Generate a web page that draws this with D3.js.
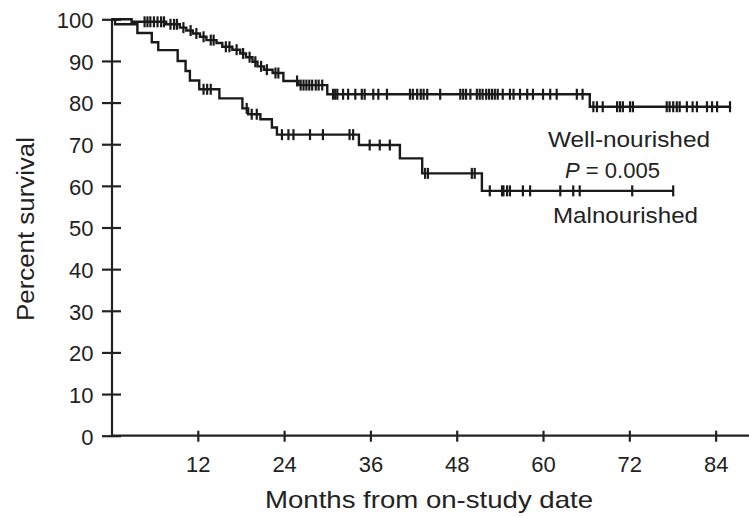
<!DOCTYPE html>
<html>
<head>
<meta charset="utf-8">
<script src="https://cdn.jsdelivr.net/npm/d3@7"></script>
<style>
  body { margin: 0; background: #fff; }
  svg { display: block; font-family: "Liberation Sans", Arial, sans-serif; }
  .axis path, .axis line { stroke: #222; stroke-width: 2.2; }
  .axis text { fill: #222; font-size: 22px; }
  .curve { fill: none; stroke: #1a1a1a; stroke-width: 2.4; }
  .censor { stroke: #1a1a1a; stroke-width: 2.2; }
  .lbl { fill: #222; }
</style>
</head>
<body>
<div id="chart"></div>
<script>
// Kaplan-Meier steps: [month, percent surviving]
var wellSteps = [[0, 100], [2.8, 99.4], [7.6, 98.8], [9.5, 98.0], [10.4, 97.3], [11.3, 96.6],
  [12.3, 95.8], [13.2, 95.0], [14.6, 94.3], [15.4, 93.4], [16.8, 92.7], [17.9, 91.8],
  [18.7, 90.9], [19.6, 89.8], [20.3, 88.7], [21.2, 87.9], [22.4, 87.1], [23.9, 85.2],
  [26.0, 84.2], [30.0, 82.0], [66.5, 79.0]];
var wellEnd = 86;
var wellCensor = [4.6, 5.0, 5.4, 5.9, 6.4, 6.9, 7.3, 8.2, 8.7, 9.1, 10.0, 11.0, 11.8, 12.8,
  13.8, 14.2, 15.9, 16.4, 17.4, 18.3, 19.2, 20.0, 20.8, 21.6, 22.8, 23.2, 25.8, 26.3,
  26.7, 27.1, 27.5, 27.9, 28.4, 28.8, 29.3,
  30.8, 31.1, 31.4, 32.2, 32.9, 33.9, 34.8, 35.2, 36.4, 37.1, 38.3, 41.5, 41.9, 42.5,
  43.0, 43.4, 43.9, 45.7, 48.5, 48.9, 49.3, 49.9, 50.8, 51.2, 51.6, 52.1, 52.5, 52.9,
  53.3, 53.7, 54.4, 55.4, 55.9, 56.8, 57.8, 58.6, 60.0, 61.0, 61.9, 64.7, 65.5,
  67.0, 67.5, 68.3, 70.3, 70.7, 71.1, 72.1, 72.5, 77.2, 77.6, 78.1, 78.6, 79.0, 80.0,
  80.8, 81.4, 82.8, 83.5, 84.2, 86.0];

var malSteps = [[0, 100], [0.5, 98.8], [3.6, 96.7], [5.6, 94.5], [6.5, 92.6], [9.2, 90.0],
  [10.3, 87.6], [10.9, 85.3], [12.2, 83.2], [15.0, 81.0], [18.2, 78.6], [19.0, 77.2],
  [20.7, 76.0], [22.3, 74.0], [23.0, 72.3], [34.4, 69.8], [40.1, 66.6], [43.2, 63.0],
  [51.5, 58.8]];
var malEnd = 78.1;
var malCensor = [12.8, 13.3, 13.8, 18.8, 19.5, 20.2, 23.7, 24.6, 25.3, 27.6, 29.4, 33.1,
  33.6, 35.9, 37.3, 38.7, 43.6, 44.0, 50.1, 50.5, 52.6, 54.3, 54.5, 55.0, 55.4, 57.2,
  58.2, 62.4, 64.2, 65.1, 72.4, 78.1];

var xTicks = [12, 24, 36, 48, 60, 72, 84];
var yTicks = [0, 10, 20, 30, 40, 50, 60, 70, 80, 90, 100];

var W = 749, H = 518;

var svg = d3.select("#chart").append("svg")
  .attr("width", W)
  .attr("height", H);

var x = d3.scaleLinear().domain([0, 88.5]).range([111.5, 748]);
var y = d3.scaleLinear().domain([0, 100]).range([435.7, 19.3]);

// axes, ticks cross the axis line
var gx = svg.append("g")
  .attr("class", "axis")
  .attr("transform", "translate(0," + y(0) + ")")
  .call(d3.axisBottom(x).tickValues(xTicks).tickSizeOuter(0).tickFormat(d3.format("d")));
gx.selectAll(".tick line").attr("y1", -5).attr("y2", 6);
gx.selectAll(".tick text").attr("y", 36).attr("dy", 0);
gx.select(".domain").attr("d", "M" + x(0) + ",0H" + W);

var gy = svg.append("g")
  .attr("class", "axis")
  .attr("transform", "translate(" + x(0) + ",0)")
  .call(d3.axisLeft(y).tickValues(yTicks).tickSizeOuter(0));
gy.selectAll(".tick line").attr("x1", -9.5).attr("x2", 9.5);
gy.selectAll(".tick text").attr("x", -18).attr("dy", "0.38em");
gy.selectAll("text").attr("text-anchor", "end");

function survivalAt(steps, t) {
  var s = steps[0][1];
  steps.forEach(function (d) { if (d[0] <= t) s = d[1]; });
  return s;
}

var stepLine = d3.line()
  .x(function (d) { return x(d[0]); })
  .y(function (d) { return y(d[1]); })
  .curve(d3.curveStepAfter);

function drawCurve(steps, end, censor) {
  var pts = steps.concat([[end, steps[steps.length - 1][1]]]);
  svg.append("path")
    .attr("class", "curve")
    .attr("d", stepLine(pts));

  svg.append("g").selectAll("line")
    .data(censor)
    .enter()
    .append("line")
    .attr("class", "censor")
    .attr("x1", function (d) { return x(d); })
    .attr("x2", function (d) { return x(d); })
    .attr("y1", function (d) { return y(survivalAt(steps, d)) - 5.5; })
    .attr("y2", function (d) { return y(survivalAt(steps, d)) + 5.5; });
}

drawCurve(malSteps, malEnd, malCensor);
drawCurve(wellSteps, wellEnd, wellCensor);

// labels
svg.append("text").attr("class", "lbl")
  .attr("x", 548).attr("y", 147)
  .attr("font-size", 22)
  .attr("textLength", 162).attr("lengthAdjust", "spacingAndGlyphs")
  .text("Well-nourished");

var pt = svg.append("text").attr("class", "lbl")
  .attr("x", 565).attr("y", 178)
  .attr("font-size", 22)
  .attr("textLength", 95).attr("lengthAdjust", "spacingAndGlyphs");
pt.append("tspan").attr("font-style", "italic").text("P");
pt.append("tspan").text(" = 0.005");

svg.append("text").attr("class", "lbl")
  .attr("x", 553).attr("y", 223)
  .attr("font-size", 22)
  .attr("textLength", 145).attr("lengthAdjust", "spacingAndGlyphs")
  .text("Malnourished");

svg.append("text").attr("class", "lbl")
  .attr("x", 429).attr("y", 508)
  .attr("text-anchor", "middle")
  .attr("font-size", 24)
  .attr("textLength", 328).attr("lengthAdjust", "spacingAndGlyphs")
  .text("Months from on-study date");

svg.append("text").attr("class", "lbl")
  .attr("transform", "translate(33.5,229) rotate(-90)")
  .attr("text-anchor", "middle")
  .attr("font-size", 23)
  .attr("textLength", 184).attr("lengthAdjust", "spacingAndGlyphs")
  .text("Percent survival");
</script>
</body>
</html>
